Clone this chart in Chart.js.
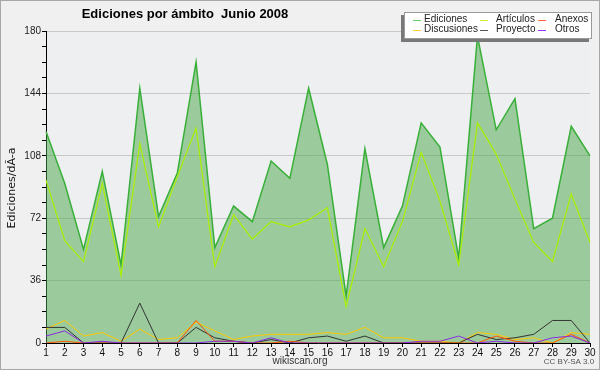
<!DOCTYPE html>
<html>
<head>
<meta charset="utf-8">
<script src="https://cdn.jsdelivr.net/npm/chart.js@4/dist/chart.umd.min.js"></script>
<style>
  html, body { margin: 0; padding: 0; background: #f0f0f0; }
  #wrap { width: 600px; height: 370px; }
</style>
</head>
<body>
<div id="wrap"><canvas id="grafico" width="600" height="370"></canvas></div>
<script>
const dias = ['1','2','3','4','5','6','7','8','9','10','11','12','13','14','15','16','17','18','19','20','21','22','23','24','25','26','27','28','29','30'];

const ediciones   = [122, 92, 54, 99, 45, 147, 73, 98, 162, 55, 79, 70, 105, 95, 147, 103, 27, 112, 55, 79, 127, 113, 49, 177, 123, 141, 66, 72, 125, 108];
const articulos   = [94, 59, 47, 92, 39, 115, 67, 96, 124, 44, 74, 60, 70, 67, 71, 78, 21, 66, 44, 70, 110, 82, 45, 127, 109, 83, 58, 47, 86, 58];
const anexos      = [0, 1, 0, 0, 0, 0, 0, 0, 13, 1, 1, 0, 0, 1, 0, 0, 0, 0, 0, 0, 0, 0, 0, 0, 4, 1, 0, 0, 5, 0];
const discusiones = [8, 13, 4, 6, 1, 8, 2, 3, 12, 7, 2, 4, 5, 5, 5, 6, 5, 9, 3, 3, 1, 1, 0, 6, 5, 2, 3, 0, 6, 5];
const proyecto    = [9, 9, 0, 0, 0, 23, 0, 0, 9, 3, 1, 0, 2, 0, 3, 4, 1, 4, 0, 0, 0, 0, 0, 5, 2, 3, 5, 13, 13, 0];
const otros       = [4, 7, 0, 1, 0, 0, 0, 0, 0, 1, 1, 0, 3, 0, 0, 0, 0, 0, 0, 0, 1, 1, 4, 0, 1, 0, 0, 3, 4, 0];

const yTicks = [0, 36, 72, 108, 144, 180];

const fuente = '"Liberation Sans", "DejaVu Sans", sans-serif';

// colores de la leyenda (algo mas claros que las lineas)
const leyenda = [
    ['Ediciones', '#66cc66'], ['Artículos', '#ccf033'], ['Anexos', '#ff6633'],
    ['Discusiones', '#ffcc33'], ['Proyecto', '#555555'], ['Otros', '#9933ff']
];

const decorado = {
    id: 'decorado',
    beforeDraw(chart) {
        const c = chart.ctx;
        const a = chart.chartArea;
        c.save();
        c.fillStyle = '#f0f0f0';
        c.fillRect(0, 0, chart.width, chart.height);
        c.strokeStyle = '#a8a8a8';
        c.lineWidth = 1;
        c.strokeRect(0.5, 0.5, chart.width - 1, chart.height - 1);
        c.fillStyle = '#eeeff1';
        c.fillRect(a.left, a.top, a.right - a.left, a.bottom - a.top);
        c.restore();
    },
    afterDraw(chart) {
        const c = chart.ctx;
        c.save();
        // titulo
        c.fillStyle = '#000';
        c.font = 'bold 13px ' + fuente;
        c.textAlign = 'center';
        c.textBaseline = 'middle';
        c.fillText('Ediciones por ámbito  Junio 2008', 185, 14);

        // titulo eje y
        c.save();
        c.translate(12, 188);
        c.rotate(-Math.PI / 2);
        c.font = '11px "DejaVu Sans", sans-serif';
        c.fillStyle = '#111';
        c.fillText('Ediciones/dÃ-a', 0, 0);
        c.restore();

        // pie
        c.font = '10px ' + fuente;
        c.fillStyle = '#333';
        c.fillText('wikiscan.org', 300, 361);
        c.font = '8px ' + fuente;
        c.fillStyle = '#555';
        c.fillText('CC BY-SA 3.0', 569, 362);

        // leyenda
        c.fillStyle = '#787878';
        c.fillRect(401, 15, 188, 27);
        c.fillStyle = '#ffffff';
        c.fillRect(404, 12, 188, 27);
        c.strokeStyle = '#999';
        c.strokeRect(404.5, 12.5, 187, 26);
        const colsLinea = [413, 480, 538];
        const colsTexto = [424, 496, 555];
        c.font = '10px ' + fuente;
        c.textAlign = 'left';
        leyenda.forEach((item, i) => {
            const col = i % 3;
            const fila = Math.floor(i / 3);
            const y = 19.5 + fila * 10;
            c.strokeStyle = item[1];
            c.lineWidth = 1;
            c.beginPath();
            c.moveTo(colsLinea[col], Math.round(y) + 0.5);
            c.lineTo(colsLinea[col] + 8, Math.round(y) + 0.5);
            c.stroke();
            c.fillStyle = '#222';
            c.fillText(item[0], colsTexto[col], y);
        });
        c.restore();
    }
};

const ctx = document.getElementById('grafico').getContext('2d');
const grafico = new Chart(ctx, {
    type: 'line',
    data: {
        labels: dias,
        datasets: [
            {
                label: 'Ediciones',
                data: ediciones,
                borderColor: '#38b038',
                backgroundColor: 'rgba(72, 165, 72, 0.5)',
                borderWidth: 1.5,
                fill: 'origin',
                order: 6
            },
            { label: 'Artículos', data: articulos, borderColor: '#aaf000', borderWidth: 1.2, fill: false, order: 5 },
            { label: 'Discusiones', data: discusiones, borderColor: '#ffc800', borderWidth: 1, fill: false, order: 4 },
            { label: 'Proyecto', data: proyecto, borderColor: '#333333', borderWidth: 1, fill: false, order: 3 },
            { label: 'Anexos', data: anexos, borderColor: '#ff5500', borderWidth: 1, fill: false, order: 2 },
            { label: 'Otros', data: otros, borderColor: '#8a2be2', borderWidth: 1, fill: false, order: 1 }
        ]
    },
    options: {
        responsive: false,
        animation: false,
        devicePixelRatio: 1,
        layout: { padding: { left: 0, top: 31, right: 10, bottom: 0 } },
        elements: {
            point: { radius: 0 },
            line: { tension: 0 }
        },
        plugins: {
            legend: { display: false },
            title: { display: false },
            tooltip: { enabled: false }
        },
        scales: {
            x: {
                type: 'category',
                offset: false,
                afterFit(scale) { scale.height = 27; },
                border: { color: '#000', width: 1 },
                grid: { drawOnChartArea: false, tickLength: 4, tickColor: '#000' },
                ticks: {
                    color: '#111',
                    padding: 0,
                    maxRotation: 0,
                    autoSkip: false,
                    font: { family: fuente, size: 10 }
                }
            },
            y: {
                min: 0,
                max: 180,
                afterFit(scale) { scale.width = 46; },
                border: { color: '#000', width: 1 },
                grid: {
                    color: (c) => yTicks.includes(c.tick.value) ? '#c8c8c8' : 'rgba(0,0,0,0)',
                    tickColor: '#000',
                    tickLength: 4
                },
                ticks: {
                    stepSize: 9,
                    autoSkip: false,
                    padding: 1,
                    color: '#222',
                    font: { family: fuente, size: 10 },
                    callback: (v) => yTicks.includes(v) ? String(v) : ''
                }
            }
        }
    },
    plugins: [decorado]
});
</script>
</body>
</html>
